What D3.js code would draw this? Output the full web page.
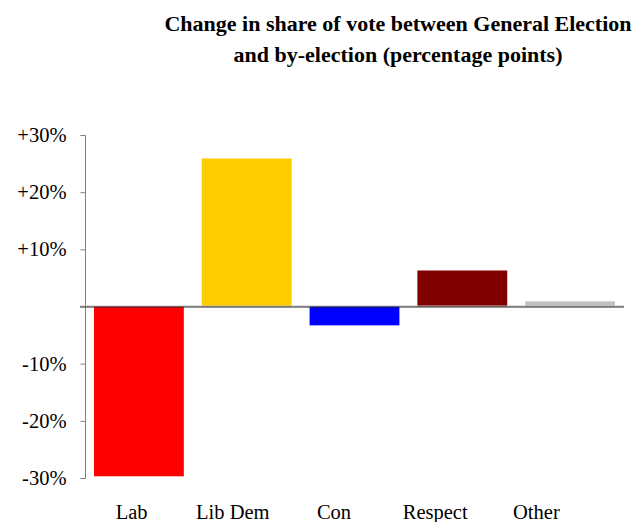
<!DOCTYPE html>
<html><head><meta charset="utf-8">
<script src="https://cdn.jsdelivr.net/npm/d3@7"></script>
<style>body{margin:0;background:#fff}svg{display:block}</style>
</head><body>
<svg id="c" width="641" height="522"></svg>
<script>
const categories = ["Lab", "Lib Dem", "Con", "Respect", "Other"];
const values = [-29.7, 25.9, -3.3, 6.3, 0.9];
const colors = ["#ff0000", "#ffcc00", "#0000ff", "#800000", "#c0c0c0"];
const tickValues = [-30, -20, -10, 10, 20, 30];
const titleLines = ["Change in share of vote between General Election", "and by-election (percentage points)"];

const svg = d3.select("#c");
const font = "'Liberation Serif','Times New Roman',serif";

const y = d3.scaleLinear().domain([-30, 30]).range([478, 135]);
const x = d3.scaleBand().domain(categories).range([85, 624]).paddingInner(1/6).paddingOuter(1/12);
const xl = d3.scaleBand().domain(categories).range([81, 587]).paddingInner(1/6).paddingOuter(1/12);

// title
svg.append("g").selectAll("text").data(titleLines).join("text")
  .attr("x", 398).attr("y", (d,i) => 31 + i*31)
  .attr("text-anchor", "middle")
  .style("font-family", font).style("font-weight", "bold").style("font-size", "22px")
  .text(d => d);

// bars
svg.append("g").selectAll("rect").data(values).join("rect")
  .attr("x", (d,i) => x(categories[i]))
  .attr("width", x.bandwidth())
  .attr("y", d => y(Math.max(0, d)))
  .attr("height", d => Math.abs(y(d) - y(0)))
  .attr("fill", (d,i) => colors[i]);

// y axis
const yAxis = d3.axisLeft(y).tickValues(tickValues).tickSize(5).tickPadding(14)
  .tickFormat(d => (d > 0 ? "+" : "") + d + "%");
const ga = svg.append("g").attr("transform", "translate(85.5,0)").call(yAxis);
ga.select(".domain").attr("stroke", "#808080").attr("d", `M-5,${y(30)+0.5}H0V${y(-30)+0.5}H-5`);
ga.selectAll(".tick line").attr("stroke", "#808080");
ga.selectAll(".tick text").style("font-family", font).style("font-size", "20.5px").attr("fill", "#000");

// zero line
svg.append("line").attr("x1", 80).attr("x2", 624).attr("y1", y(0) - 0.5).attr("y2", y(0) - 0.5)
  .attr("stroke", "#c0c0c0");
svg.append("line").attr("x1", 80).attr("x2", 624).attr("y1", y(0) + 0.5).attr("y2", y(0) + 0.5)
  .attr("stroke", "#222");

// category labels
svg.append("g").selectAll("text").data(categories).join("text")
  .attr("x", d => xl(d) + xl.bandwidth()/2)
  .attr("y", 519)
  .attr("text-anchor", "middle")
  .style("font-family", font).style("font-size", "20.5px")
  .text(d => d);
</script>
</body></html>
